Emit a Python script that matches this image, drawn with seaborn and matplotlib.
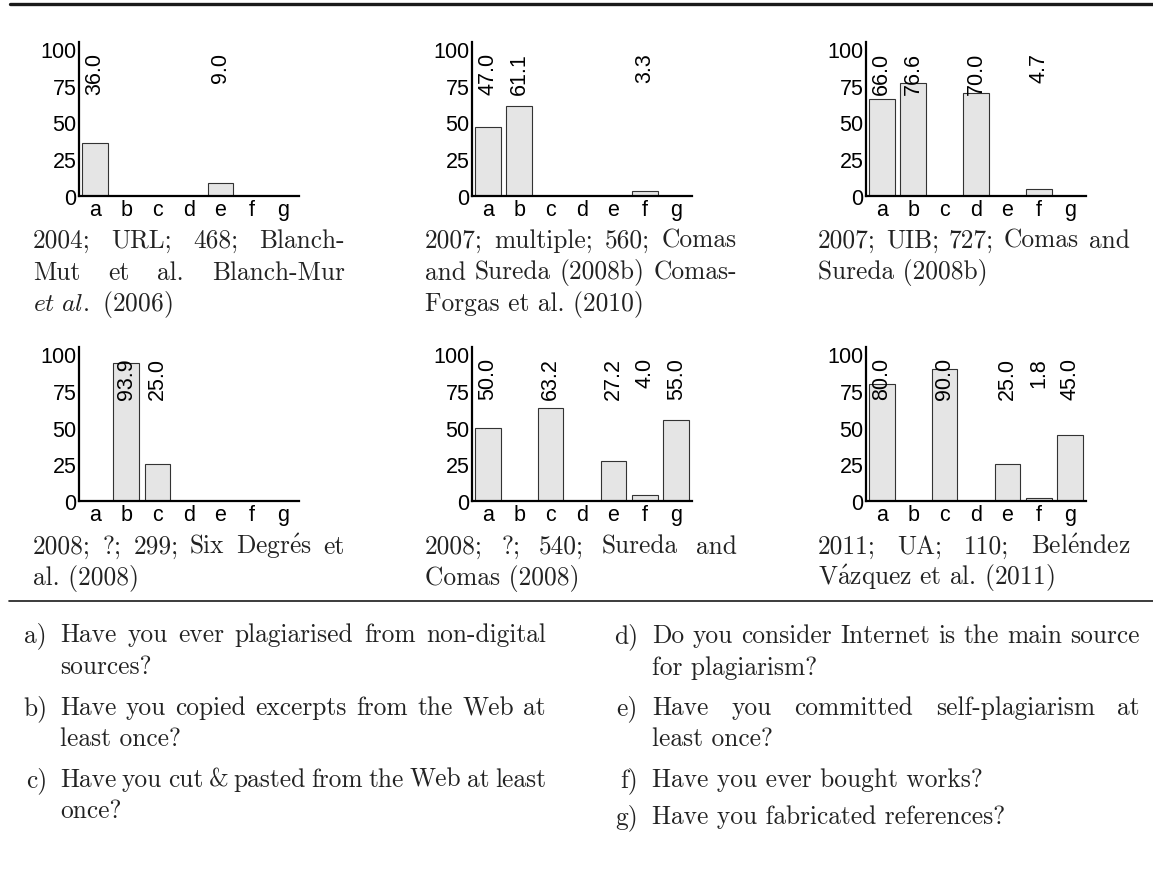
import numpy as np
import pandas as pd
import matplotlib
matplotlib.use("Agg")
import matplotlib.pyplot as plt
from matplotlib.lines import Line2D
import seaborn as sns

# ---------------- data ----------------
categories = ["a", "b", "c", "d", "e", "f", "g"]
v2004_url = [36.0, 0, 0, 0, 9.0, 0, 0]
v2007_multiple = [47.0, 61.1, 0, 0, 0, 3.3, 0]
v2007_uib = [66.0, 76.6, 0, 70.0, 0, 4.7, 0]
v2008_six = [0, 93.9, 25.0, 0, 0, 0, 0]
v2008_sureda = [50.0, 0, 63.2, 0, 27.2, 4.0, 55.0]
v2011_ua = [80.0, 0, 90.0, 0, 25.0, 1.8, 45.0]
yticks = [0, 25, 50, 75, 100]

captions = [
    ["2004; URL; 468; Blanch-", "Mut et al. Blanch-Mur", r"$\mathit{et\ al.}$ (2006)"],
    ["2007; multiple; 560; Comas", "and Sureda (2008b) Comas-", "Forgas et al. (2010)"],
    ["2007; UIB; 727; Comas and", "Sureda (2008b)"],
    [r"2008; ?; 299; Six Degr$\mathrm{\acute{e}}$s et", "al. (2008)"],
    ["2008; ?; 540; Sureda and", "Comas (2008)"],
    [r"2011; UA; 110; Bel$\mathrm{\acute{e}}$ndez", r"V$\mathrm{\acute{a}}$zquez et al. (2011)"],
]
series = [v2004_url, v2007_multiple, v2007_uib, v2008_six, v2008_sureda, v2011_ua]

question_labels = ["a)", "b)", "c)", "d)", "e)", "f)", "g)"]
questions = [
    ["Have you ever plagiarised from non-digital", "sources?"],
    ["Have you copied excerpts from the Web at", "least once?"],
    ["Have you cut & pasted from the Web at least", "once?"],
    ["Do you consider Internet is the main source", "for plagiarism?"],
    ["Have you committed self-plagiarism at", "least once?"],
    ["Have you ever bought works?"],
    ["Have you fabricated references?"],
]

# ---------------- style ----------------
sns.set_style("white")
plt.rcParams["mathtext.fontset"] = "cm"
SANS = ["Liberation Sans", "DejaVu Sans"]
SERIF = ["cmr10", "DejaVu Serif"]
plt.rcParams["font.family"] = SANS
plt.rcParams["axes.formatter.use_mathtext"] = True

W, H = 1153, 870
fig = plt.figure(figsize=(W / 100, H / 100), dpi=100)
fig.patch.set_facecolor("white")

def fx(px):
    return px / W

def fy(py):
    return 1 - py / H

ax_lefts = [79, 472, 866]
ax_bottoms = [196.7, 502]
ax_w, ax_h = 220, 154
cap_lefts = [33, 425, 818]
cap_width = 312
cap_base = [[248, 279.5, 311], [554, 585.5]]
LBL = 15.5
SERIF_SIZE = 18.3
TXT = "#222222"

renderer = fig.canvas.get_renderer()

def put_line(text, x0, x1, y, justify, size):
    words = text.split(" ")
    if (not justify) or len(words) == 1:
        fig.text(fx(x0), fy(y), text, family=SERIF, fontsize=size,
                 ha="left", va="baseline", color=TXT)
        return
    objs = [fig.text(0, 0, w, family=SERIF, fontsize=size, ha="left",
                     va="baseline", color=TXT) for w in words]
    widths = [o.get_window_extent(renderer).width for o in objs]
    gap = (x1 - x0 - sum(widths)) / (len(words) - 1)
    x = x0
    for o, wd in zip(objs, widths):
        o.set_position((fx(x), fy(y)))
        x += wd + gap

for k, vals in enumerate(series):
    r, c = divmod(k, 3)
    left = ax_lefts[c]
    bottom = ax_bottoms[r]
    ax = fig.add_axes([fx(left), fy(bottom), ax_w / W, ax_h / H])
    df = pd.DataFrame({"q": categories, "v": vals})
    sns.barplot(data=df, x="q", y="v", ax=ax, color="#e5e5e5", saturation=1,
                edgecolor="#333333", linewidth=0.8, width=0.82)
    ax.set_xlim(-0.5, 6.5)
    ax.set_ylim(0, 105)
    ax.set_yticks(yticks)
    ax.set_xlabel("")
    ax.set_ylabel("")
    for s in ["top", "right"]:
        ax.spines[s].set_visible(False)
    for s in ["left", "bottom"]:
        ax.spines[s].set_color("black")
        ax.spines[s].set_linewidth(1.6)
    ax.tick_params(axis="both", length=0, labelsize=LBL, colors="black")
    ax.tick_params(axis="x", pad=2.5)
    ax.tick_params(axis="y", pad=1.2)
    ax.set_facecolor("none")
    for p, v in zip(ax.patches, vals):
        if v > 0:
            ax.text(p.get_x() + p.get_width() / 2, 98, f"{v:.1f}", rotation=90,
                    ha="center", va="top", fontsize=LBL, color="black")
    # caption
    lines = captions[k]
    cl = cap_lefts[c]
    for i, line in enumerate(lines):
        put_line(line, cl, cl + cap_width, cap_base[r][i], i < len(lines) - 1, SERIF_SIZE)

# rules
fig.add_artist(Line2D([fx(10), 1.0], [fy(4.5), fy(4.5)], lw=2.4, color="#1a1a1a"))
fig.add_artist(Line2D([fx(9), 1.0], [fy(601.5), fy(601.5)], lw=1.2, color="#1a1a1a"))

# question list
col_text_left = [60, 652]
col_text_right = [546, 1140]
col_label_right = [47, 638]
q_base = [[642, 674], [715, 746.5], [787, 818.5],
          [643, 675], [715, 746.5], [787], [824]]
for qi, (lab, qlines) in enumerate(zip(question_labels, questions)):
    col = 0 if qi < 3 else 1
    ys = q_base[qi]
    fig.text(fx(col_label_right[col]), fy(ys[0]), lab, family=SERIF,
             fontsize=SERIF_SIZE, ha="right", va="baseline", color=TXT)
    for li, line in enumerate(qlines):
        put_line(line, col_text_left[col], col_text_right[col], ys[li],
                 li < len(qlines) - 1, SERIF_SIZE)

fig.savefig("out.png", dpi=100, facecolor="white")
